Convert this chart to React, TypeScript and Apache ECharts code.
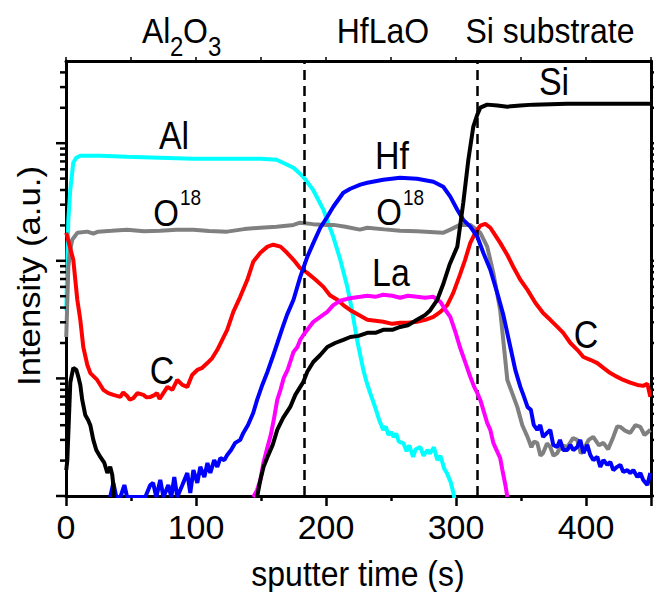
import React, { useEffect, useRef } from 'react';
import * as echarts from 'echarts';

// ---- axes / ticks ----
const xMin = 0;
const xMax = 450;
const xInterval = 100;
const yMin = 1;
const yMax = 5000;
const yMajorTicks = [1, 10, 100, 1000];
const yMinorTicks = [2, 3, 4, 5, 6, 7, 8, 9, 20, 30, 40, 50, 60, 70, 80, 90, 200, 300, 400, 500, 600, 700, 800, 900, 2000, 3000, 4000];
const layerBoundaries = [183, 316];

// ---- series data: [sputter time (s), intensity (a.u.)] ----
const alData: [number, number][] = [
  [0.2, 38], [1.8, 223], [3.3, 402], [5.6, 682], [7.9, 753], [11, 783], [26, 783], [47, 767], [72, 753], [98, 738],
  [126, 738], [150, 738], [162, 724], [175, 618], [182.5, 519], [190, 402], [198, 272], [205.6, 160], [211, 102],
  [216.4, 60], [220, 38], [224, 21], [228.7, 11.8], [231, 9.5], [234, 7.5], [238, 5.6], [241, 4.4], [244, 3.65],
  [246, 3.9], [248, 3.3], [250, 3.5], [252, 3.18], [254, 3.4], [256, 2.9], [259.5, 2.82], [262, 2.4], [264, 2.7],
  [267, 2.15], [269, 2.5], [272.5, 2.61], [275, 2.2], [278, 2.46], [280, 2.3], [283, 2.6], [285.6, 2.02], [288, 2.2],
  [291, 1.7], [293, 1.57], [296, 1.3], [298, 1.06], [300, 0.8],
];

const o18Data: [number, number | null][] = [
  [0.2, 22.5], [1.8, 89], [3.3, 124], [4.8, 151], [8.7, 173], [16.4, 177], [21, 170], [24.8, 177], [35, 180],
  [47, 184], [60, 178], [72.5, 180], [85, 184], [98, 184], [110, 179], [124, 177], [137, 186], [149.5, 191],
  [162, 195], [175, 202], [180, 211], [190, 205], [201, 202], [205.8, 202], [215, 195], [226, 184], [231.8, 191],
  [245, 185], [257, 180], [270, 178], [280, 176], [290, 173], [296, 185], [303, 202], [311, 202], [318.7, 173],
  [324, 132], [328.7, 79], [334, 38], [339.5, 9.7], [347.2, 5.7], [351, 4.0], [355, 3.18], [358, 2.6], [360, 2.9],
  [362.5, 2.83], [365, 2.2], [367, 2.32], [370, 2.8], [372.5, 2.61], [375, 2.2], [377.9, 2.32], [381, 2.7],
  [385.6, 2.61], [390, 3.1], [393.3, 3.0], [396, 2.3], [398, 2.46], [402, 3.0], [405.6, 3.18], [410, 2.7],
  [413.4, 2.83], [417, 2.5], [421, 3.18], [424, 3.9], [426.4, 3.87], [430, 3.6], [434, 3.44], [438, 4.0],
  [441.8, 3.87], [445, 3.3], [449.5, 3.65],
];

const cData: [number, number][] = [
  [0.2, 173], [5.6, 102], [8.7, 46.6], [11, 31.5], [13.3, 18.5], [16.4, 13], [18.7, 11.1], [24, 9.7], [28.7, 8.0],
  [32.5, 7.5], [36.4, 7.24], [41.8, 6.96], [44, 7.6], [47, 7.1], [49, 6.6], [51.8, 6.8], [55, 7.5], [59.5, 7.24],
  [62, 6.9], [65, 6.96], [68, 7.2], [70, 7.5], [72, 6.7], [74, 7.24], [78, 8.47], [81.8, 8.0], [85.6, 9.7],
  [89.5, 8.8], [93.3, 8.47], [97, 10.7], [101, 11.8], [104.8, 12.3], [108.7, 13.5], [112.5, 14.9], [116.4, 17.5],
  [120.2, 21.3], [124, 25.9], [128.7, 36.8], [134, 49.4], [139.5, 68.9], [144, 98], [149.5, 117], [155, 132],
  [159.5, 137], [165, 132], [170, 117], [175, 102], [180, 87], [185.6, 79], [192, 69], [198, 60], [203, 51],
  [208.7, 46.6], [213.3, 42], [218.7, 38], [225, 34.7], [231.8, 31.5], [238, 30.9], [244, 30.3], [251, 29.1],
  [257, 29.7], [263, 29.7], [270, 30.3], [276.4, 31.5], [282.6, 33.4], [288, 36.8], [293.3, 42], [297.9, 53.4],
  [303, 76], [307, 102], [311, 142], [314.8, 173], [318.7, 199], [322.5, 206], [326.4, 191], [330, 166], [334, 142],
  [339.5, 112], [344, 89], [349.5, 69], [355, 56.6], [361, 44], [367, 36], [372.5, 31.5], [378, 27.4], [382.5, 24.4],
  [388, 20], [393.3, 17.5], [398, 15.2], [403.3, 14.4], [408.7, 13.5], [413.4, 12.3], [418.7, 11.1], [424, 10.3],
  [428.7, 9.7], [434, 9.2], [439.5, 8.8], [444, 8.64], [447.2, 9.0], [449.5, 6.96],
];

const siData: [number, number | null][] = [
  [0.2, 1.66], [1, 2.0], [3.3, 9.2], [5.6, 12.3], [8, 11.8], [9.5, 10.3], [11, 8.8], [12.5, 6.56], [14.8, 4.89],
  [17, 4.43], [18.7, 4.0], [21, 3.0], [23.3, 2.46], [26.4, 2.15], [29.5, 1.91], [31.8, 1.57], [34, 1.77], [35.6, 1.51],
  [36.4, 1.24], [37, 0.9], [90, null],
  [147, 0.98], [149.5, 1.37], [152, 1.77], [155, 2.15], [159, 2.72], [162.5, 3.65], [167, 4.61], [172.5, 5.72],
  [176.4, 7.24], [180.2, 8.47], [182.5, 9.3], [185.6, 11.4], [190.2, 13.8], [195.6, 15.8], [201, 18.5], [207, 20],
  [213.3, 21.3], [218.7, 22.5], [225, 23], [231.8, 24.4], [238, 24.4], [244, 25.9], [251, 25.9], [257, 27.4],
  [263, 28.3], [270, 31.5], [276.4, 34.7], [280.2, 38], [285.6, 46.6], [290, 62.5], [295, 92.5], [301, 132],
  [305.6, 312], [309.5, 724], [313.3, 1380], [316.4, 1750], [318.7, 2004], [324, 2128], [331.8, 2090], [339.5, 2045],
  [349.5, 2090], [359.5, 2128], [385.6, 2170], [411, 2170], [450, 2170],
];

const hfData: [number, number][] = [
  [34, 0.98], [36.4, 1.29], [38.7, 0.98], [41.8, 0.98], [44.9, 1.24], [47, 0.98], [57, 0.98], [61, 0.98],
  [64.8, 1.24], [67, 1.29], [69.5, 0.98], [72.5, 1.37], [75, 0.98], [78.7, 1.24], [81, 0.98], [83.3, 1.45],
  [85.6, 0.98], [89.5, 1.24], [93.3, 1.57], [95.6, 1.06], [98, 1.66], [101, 1.29], [103.3, 1.77], [106.4, 1.45],
  [108.8, 1.91], [111, 1.57], [114, 2.02], [116.4, 1.77], [118.7, 2.1], [121.8, 2.02], [124, 2.23], [127, 2.46],
  [130.2, 2.83], [134, 3.0], [136.4, 3.44], [140, 4.02], [144, 5.08], [147, 6.56], [151, 8.8], [155, 11.4],
  [158.7, 14.9], [162.6, 20], [166.5, 26.9], [170, 34.7], [175, 46.6], [180.2, 73], [185.6, 108], [190.3, 142],
  [195.6, 191], [201, 237], [205.6, 288], [213.3, 379], [218.7, 410], [226.4, 444], [231.8, 461], [244, 489],
  [257, 508], [270, 498], [282.6, 470], [290.2, 426], [295.6, 351], [301, 272], [305.6, 223], [311, 195],
  [316.4, 160], [321, 117], [326.4, 84], [331.8, 53], [336.4, 34.7], [341.8, 18.5], [345.6, 11.8], [349.5, 8.47],
  [351.8, 7.24], [355, 5.72], [357.6, 5.4], [359.8, 4.02], [362.5, 3.65], [364.8, 4.02], [367, 3.18], [370, 3.44],
  [372.5, 3.65], [374.8, 2.72], [377.9, 2.61], [380, 3.0], [382.5, 2.46], [385.6, 2.46], [388, 2.72], [390.2, 2.46],
  [393.3, 2.61], [395.6, 3.0], [398, 2.32], [401, 2.72], [403.3, 2.23], [405.6, 2.02], [408.7, 2.15], [411, 1.77],
  [413.4, 2.02], [416.4, 1.84], [418.7, 1.95], [421, 1.66], [424, 1.77], [426.4, 1.84], [428.7, 1.6], [431.8, 1.66],
  [434, 1.57], [436.4, 1.66], [439.5, 1.45], [441.8, 1.57], [444, 1.37], [447.2, 1.24], [449.5, 1.57],
];

const laData: [number, number][] = [
  [144, 0.98], [147, 1.12], [149.5, 1.37], [152, 1.95], [155, 2.61], [157.5, 3.3], [159.8, 4.43], [162.5, 6.56],
  [165, 8.0], [167.5, 10.1], [170.5, 11.8], [172.5, 13.8], [175, 16.8], [178, 18.5], [180.2, 21.3], [182.6, 23.4],
  [185.6, 25.9], [190.3, 30.3], [195.6, 33.4], [201, 36.8], [205.6, 42], [211, 45.7], [216.4, 47.5], [221, 48.5],
  [226.4, 49.4], [231.8, 50.4], [238, 49.4], [244, 51.4], [251, 50.4], [257, 48.5], [263, 50.4], [270, 49.4],
  [276.4, 48.5], [282.6, 49.4], [288, 44.8], [292, 38], [295.6, 33.4], [299.5, 24.9], [303, 18.5], [307, 13.8],
  [311, 10.3], [314, 8.47], [316.4, 7.5], [318.7, 6.56], [321, 5.4], [324, 4.18], [326.4, 3.65], [328.7, 2.83],
  [331.8, 2.37], [334, 2.1], [335.7, 1.66], [338, 1.24], [339.5, 0.98],
];

const FONT = 'Liberation Sans, Arial, Helvetica, sans-serif';
const SY = 1.12;

function txt(text: string, x: number, y: number, size: number, align = 'center', extra: any = {}) {
  return {
    type: 'text',
    x,
    y,
    scaleY: SY,
    silent: true,
    z: 100,
    style: {
      text,
      fontSize: size,
      fontFamily: FONT,
      fill: '#000',
      align,
      verticalAlign: 'middle',
      textAlign: align,
      textVerticalAlign: 'middle',
    },
    ...extra,
  };
}

export default function App() {
  const ref = useRef<HTMLDivElement>(null);
  useEffect(() => {
    if (!ref.current) return;
    const chart = echarts.init(ref.current, null, { renderer: 'svg' });
    const tickData = yMajorTicks.map((v) => [0, v, 1]).concat(yMinorTicks.map((v) => [0, v, 0]));
    const line = (name: string, data: any, color: string, z: number, extra: any = {}) => ({
      type: 'line',
      name,
      data,
      showSymbol: false,
      symbol: 'none',
      connectNulls: false,
      clip: true,
      z,
      lineStyle: { color, width: 4 },
      itemStyle: { color },
      ...extra,
    });
    const option: any = {
      animation: false,
      backgroundColor: '#fff',
      grid: { left: 66, right: 3, top: 61, bottom: 96, show: false, containLabel: false, outerBoundsMode: 'none' },
      xAxis: [
        {
          type: 'value',
          min: xMin,
          max: xMax,
          interval: xInterval,
          position: 'bottom',
          axisLine: { show: true, onZero: false, lineStyle: { color: '#000', width: 3 } },
          axisTick: { show: true, inside: false, length: 10, lineStyle: { color: '#000', width: 2.5 } },
          minorTick: { show: true, splitNumber: 2, length: 5, lineStyle: { color: '#000', width: 2.5 } },
          axisLabel: {
            show: true,
            fontSize: 34,
            fontFamily: FONT,
            color: '#000',
            margin: 14,
            showMaxLabel: false,
            formatter: (v: number) => (v % xInterval === 0 ? String(v) : ''),
          },
          splitLine: { show: false },
        },
        {
          type: 'value',
          min: xMin,
          max: xMax,
          interval: xInterval,
          position: 'top',
          axisLine: { show: true, onZero: false, lineStyle: { color: '#000', width: 3 } },
          axisTick: { show: true, inside: false, length: 4, lineStyle: { color: '#000', width: 1.5 } },
          minorTick: { show: true, splitNumber: 2, length: 4, lineStyle: { color: '#000', width: 1.5 } },
          axisLabel: { show: false },
          splitLine: { show: false },
        },
      ],
      yAxis: [
        {
          type: 'log',
          min: yMin,
          max: yMax,
          position: 'left',
          axisLine: { show: true, onZero: false, lineStyle: { color: '#000', width: 3 } },
          axisTick: { show: false },
          axisLabel: { show: false },
          splitLine: { show: false },
        },
        {
          type: 'log',
          min: yMin,
          max: yMax,
          position: 'right',
          axisLine: { show: true, onZero: false, lineStyle: { color: '#000', width: 3 } },
          axisTick: { show: false },
          axisLabel: { show: false },
          splitLine: { show: false },
        },
      ],
      series: [
        line('Al', alData, '#00FFFF', 2),
        line('O18', o18Data, '#808080', 3),
        line('C', cData, '#FF0000', 4),
        line('Hf', hfData, '#0000FF', 5),
        line('La', laData, '#FF00FF', 6),
        line('Si', siData, '#000000', 7, {
          markLine: {
            silent: true,
            symbol: 'none',
            label: { show: false },
            lineStyle: { type: [10, 6], color: '#000', width: 2.5 },
            data: layerBoundaries.map((v) => ({ xAxis: v })),
          },
        }),
        {
          type: 'custom',
          name: 'yticks',
          data: tickData,
          encode: { x: 0, y: 1 },
          clip: false,
          silent: true,
          z: 20,
          renderItem: (_params: any, api: any) => {
            const v = api.value(1);
            const major = api.value(2) === 1;
            const l = api.coord([xMin, v]);
            const r = api.coord([xMax, v]);
            const len = major ? 10 : 6;
            const style = { stroke: '#000', lineWidth: 2.5 };
            return {
              type: 'group',
              children: [
                { type: 'line', shape: { x1: l[0] - len, y1: l[1], x2: l[0], y2: l[1] }, style },
                { type: 'line', shape: { x1: r[0], y1: r[1], x2: r[0] + len, y2: r[1] }, style },
              ],
            };
          },
        },
      ],
      graphic: [
        // layer titles
        txt('Al', 142, 30, 32, 'left'),
        txt('2', 170, 47, 24, 'left'),
        txt('O', 183, 30, 32, 'left'),
        txt('3', 208, 47, 24, 'left'),
        txt('HfLaO', 383, 30, 32),
        txt('Si substrate', 550, 30, 32),
        // series labels
        txt('Al', 174, 136, 34),
        txt('O', 166, 213, 33),
        txt('18', 180, 198, 19, 'left'),
        txt('Hf', 392, 156, 34),
        txt('O', 389, 212, 33),
        txt('18', 403, 198, 19, 'left'),
        txt('La', 391, 273, 34),
        txt('Si', 554, 82, 34),
        txt('C', 162, 371, 34),
        txt('C', 586, 335, 34),
        // axis titles
        txt('sputter time (s)', 358, 573, 32),
        {
          type: 'text',
          x: 29,
          y: 276,
          rotation: Math.PI / 2,
          scaleX: SY,
          silent: true,
          z: 100,
          style: {
            text: 'Intensity (a.u.)',
            fontSize: 31,
            fontFamily: FONT,
            fill: '#000',
            align: 'center',
            verticalAlign: 'middle',
            textAlign: 'center',
            textVerticalAlign: 'middle',
          },
        },
      ],
    };
    chart.setOption(option);
    return () => chart.dispose();
  }, []);
  return (
    <div
      ref={ref}
      style={{ position: 'fixed', left: 0, top: 0, width: 654, height: 592, background: '#fff' }}
    />
  );
}
